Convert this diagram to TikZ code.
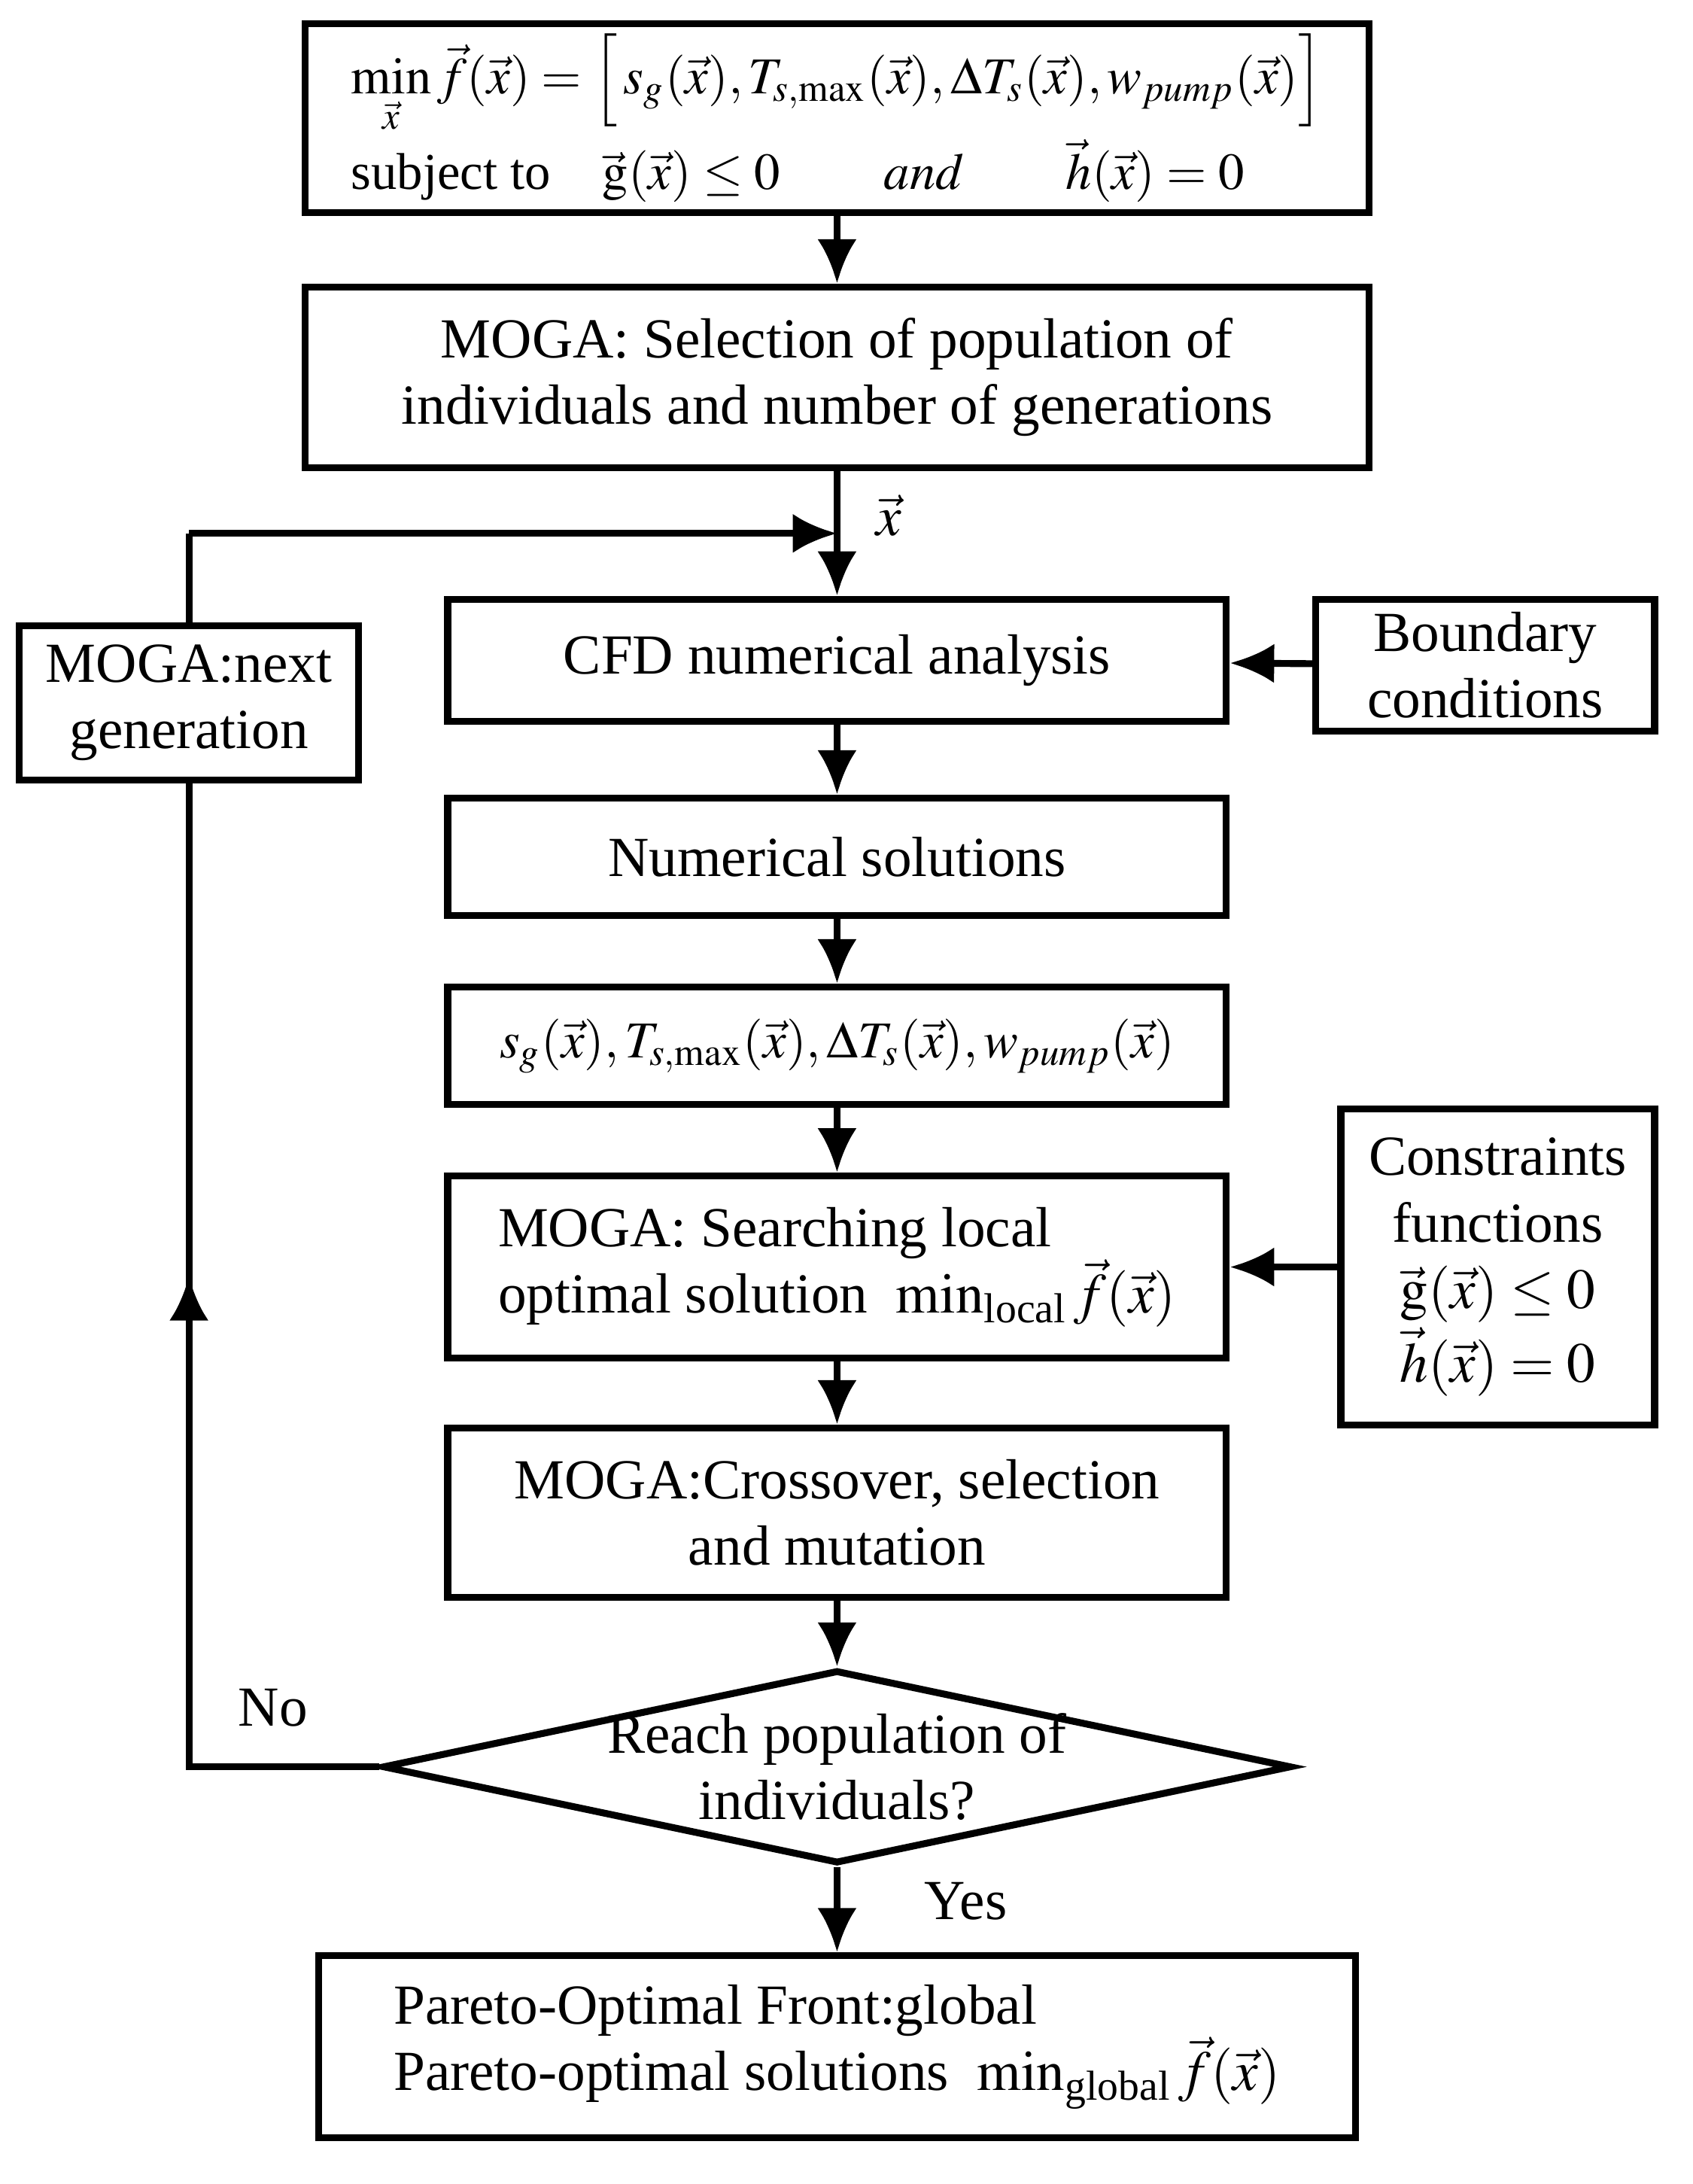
\documentclass[tikz,border=0pt]{standalone}
\usepackage{amsmath}
\usepackage{mathptmx}
\usepackage{fontspec}
\setmainfont{Liberation Serif}
\usetikzlibrary{shapes.geometric,arrows.meta,decorations.markings}
\begin{document}
\begin{tikzpicture}[x=0.01cm,y=-0.01cm,
  box/.style={draw,line width=1.4pt,align=center,inner sep=0pt,font=\fontsize{11.5}{13.5}\selectfont},
  arr/.style={line width=1.4pt,-{Latex[length=9pt,width=8pt]}},
  ln/.style={line width=1.4pt}]
\useasboundingbox (0,0) rectangle (1209,1560);
\newcommand{\vx}{\vec{x}}
\node[box,minimum width=7.6cm,minimum height=1.35cm,align=left,font=\fontsize{10.5}{13}\selectfont] (b1) at (598,84.5)
 {$\min\limits_{\vx}\vec f(\vx)=\Bigl[\,s_g(\vx),T_{s,\max}(\vx),\Delta T_s(\vx),w_{pump}(\vx)\Bigr]$\\[0pt]
  subject to\quad$\vec{\mathrm g}(\vx)\le 0\qquad\mathit{and}\qquad\vec h(\vx)=0$};
\node[box,minimum width=7.6cm,minimum height=1.29cm] (b2) at (598,269.5)
 {MOGA: Selection of\ population of\\individuals and number of generations};
\node[box,minimum width=5.56cm,minimum height=0.87cm] (cfd) at (598,471.5) {CFD numerical analysis};
\node[box,minimum width=2.42cm,minimum height=0.94cm] (bc) at (1061,475) {Boundary\\conditions};
\node[box,minimum width=2.42cm,minimum height=1.1cm] (nx) at (135,502) {MOGA:next\\generation};
\node[box,minimum width=5.56cm,minimum height=0.84cm] (ns) at (598,612) {Numerical solutions};
\node[box,minimum width=5.56cm,minimum height=0.84cm,font=\fontsize{10.5}{13}\selectfont] (sg) at (598,747)
 {$s_g(\vx),T_{s,\max}(\vx),\Delta T_s(\vx),w_{pump}(\vx)$};
\node[box,minimum width=5.56cm,minimum height=1.3cm,align=left] (se) at (598,905)
 {MOGA: Searching local\\optimal solution \ $\min_{\text{local}}\vec f(\vx)$};
\node[box,minimum width=2.24cm,minimum height=2.26cm] (cs) at (1070,905)
 {Constraints\\functions\\$\vec{\mathrm g}(\vx)\le 0$\\$\vec h(\vx)=0$};
\node[box,minimum width=5.56cm,minimum height=1.21cm] (co) at (598,1080.5)
 {MOGA:Crossover, selection\\and mutation};
\node[draw,line width=1.4pt,diamond,aspect=4.7,minimum width=6.49cm,minimum height=1.38cm,inner sep=-6pt,align=center,font=\fontsize{11.5}{13.5}\selectfont] (d) at (598,1262)
 {Reach population of\\individuals?};
\node[box,minimum width=7.4cm,minimum height=1.3cm,align=left] (pa) at (598,1462)
 {Pareto-Optimal Front:global\\Pareto-optimal solutions \ $\min_{\text{global}}\vec f(\vx)$};
\coordinate (j) at (598,381);
\coordinate (c1) at (135,381);
\coordinate (c2) at (135,1262);
\draw[arr] (b1) -- (b2);
\draw[arr] (b2) -- (cfd);
\node[font=\fontsize{11.5}{13.5}\selectfont] (xl) at (635,368) {$\vec x$};
\draw[ln] (nx.north) -- (c1);
\draw[arr] (c1) -- (j);
\draw[arr] (bc) -- (cfd);
\draw[arr] (cfd) -- (ns);
\draw[arr] (ns) -- (sg);
\draw[arr] (sg) -- (se);
\draw[arr] (cs) -- (se);
\draw[arr] (se) -- (co);
\draw[arr] (co) -- (d.north);
\draw[arr] (d.south) -- (pa);
\draw[ln,postaction={decorate},decoration={markings,mark=at position 0.58 with {\arrow{Latex[length=9pt,width=8pt]}}}] (d.west) -- (c2) -- (nx.south);
\node[font=\fontsize{11.5}{13.5}\selectfont] (no) at (195,1220) {No};
\node[font=\fontsize{11.5}{13.5}\selectfont] (yes) at (690,1358) {Yes};
\end{tikzpicture}
\end{document}
